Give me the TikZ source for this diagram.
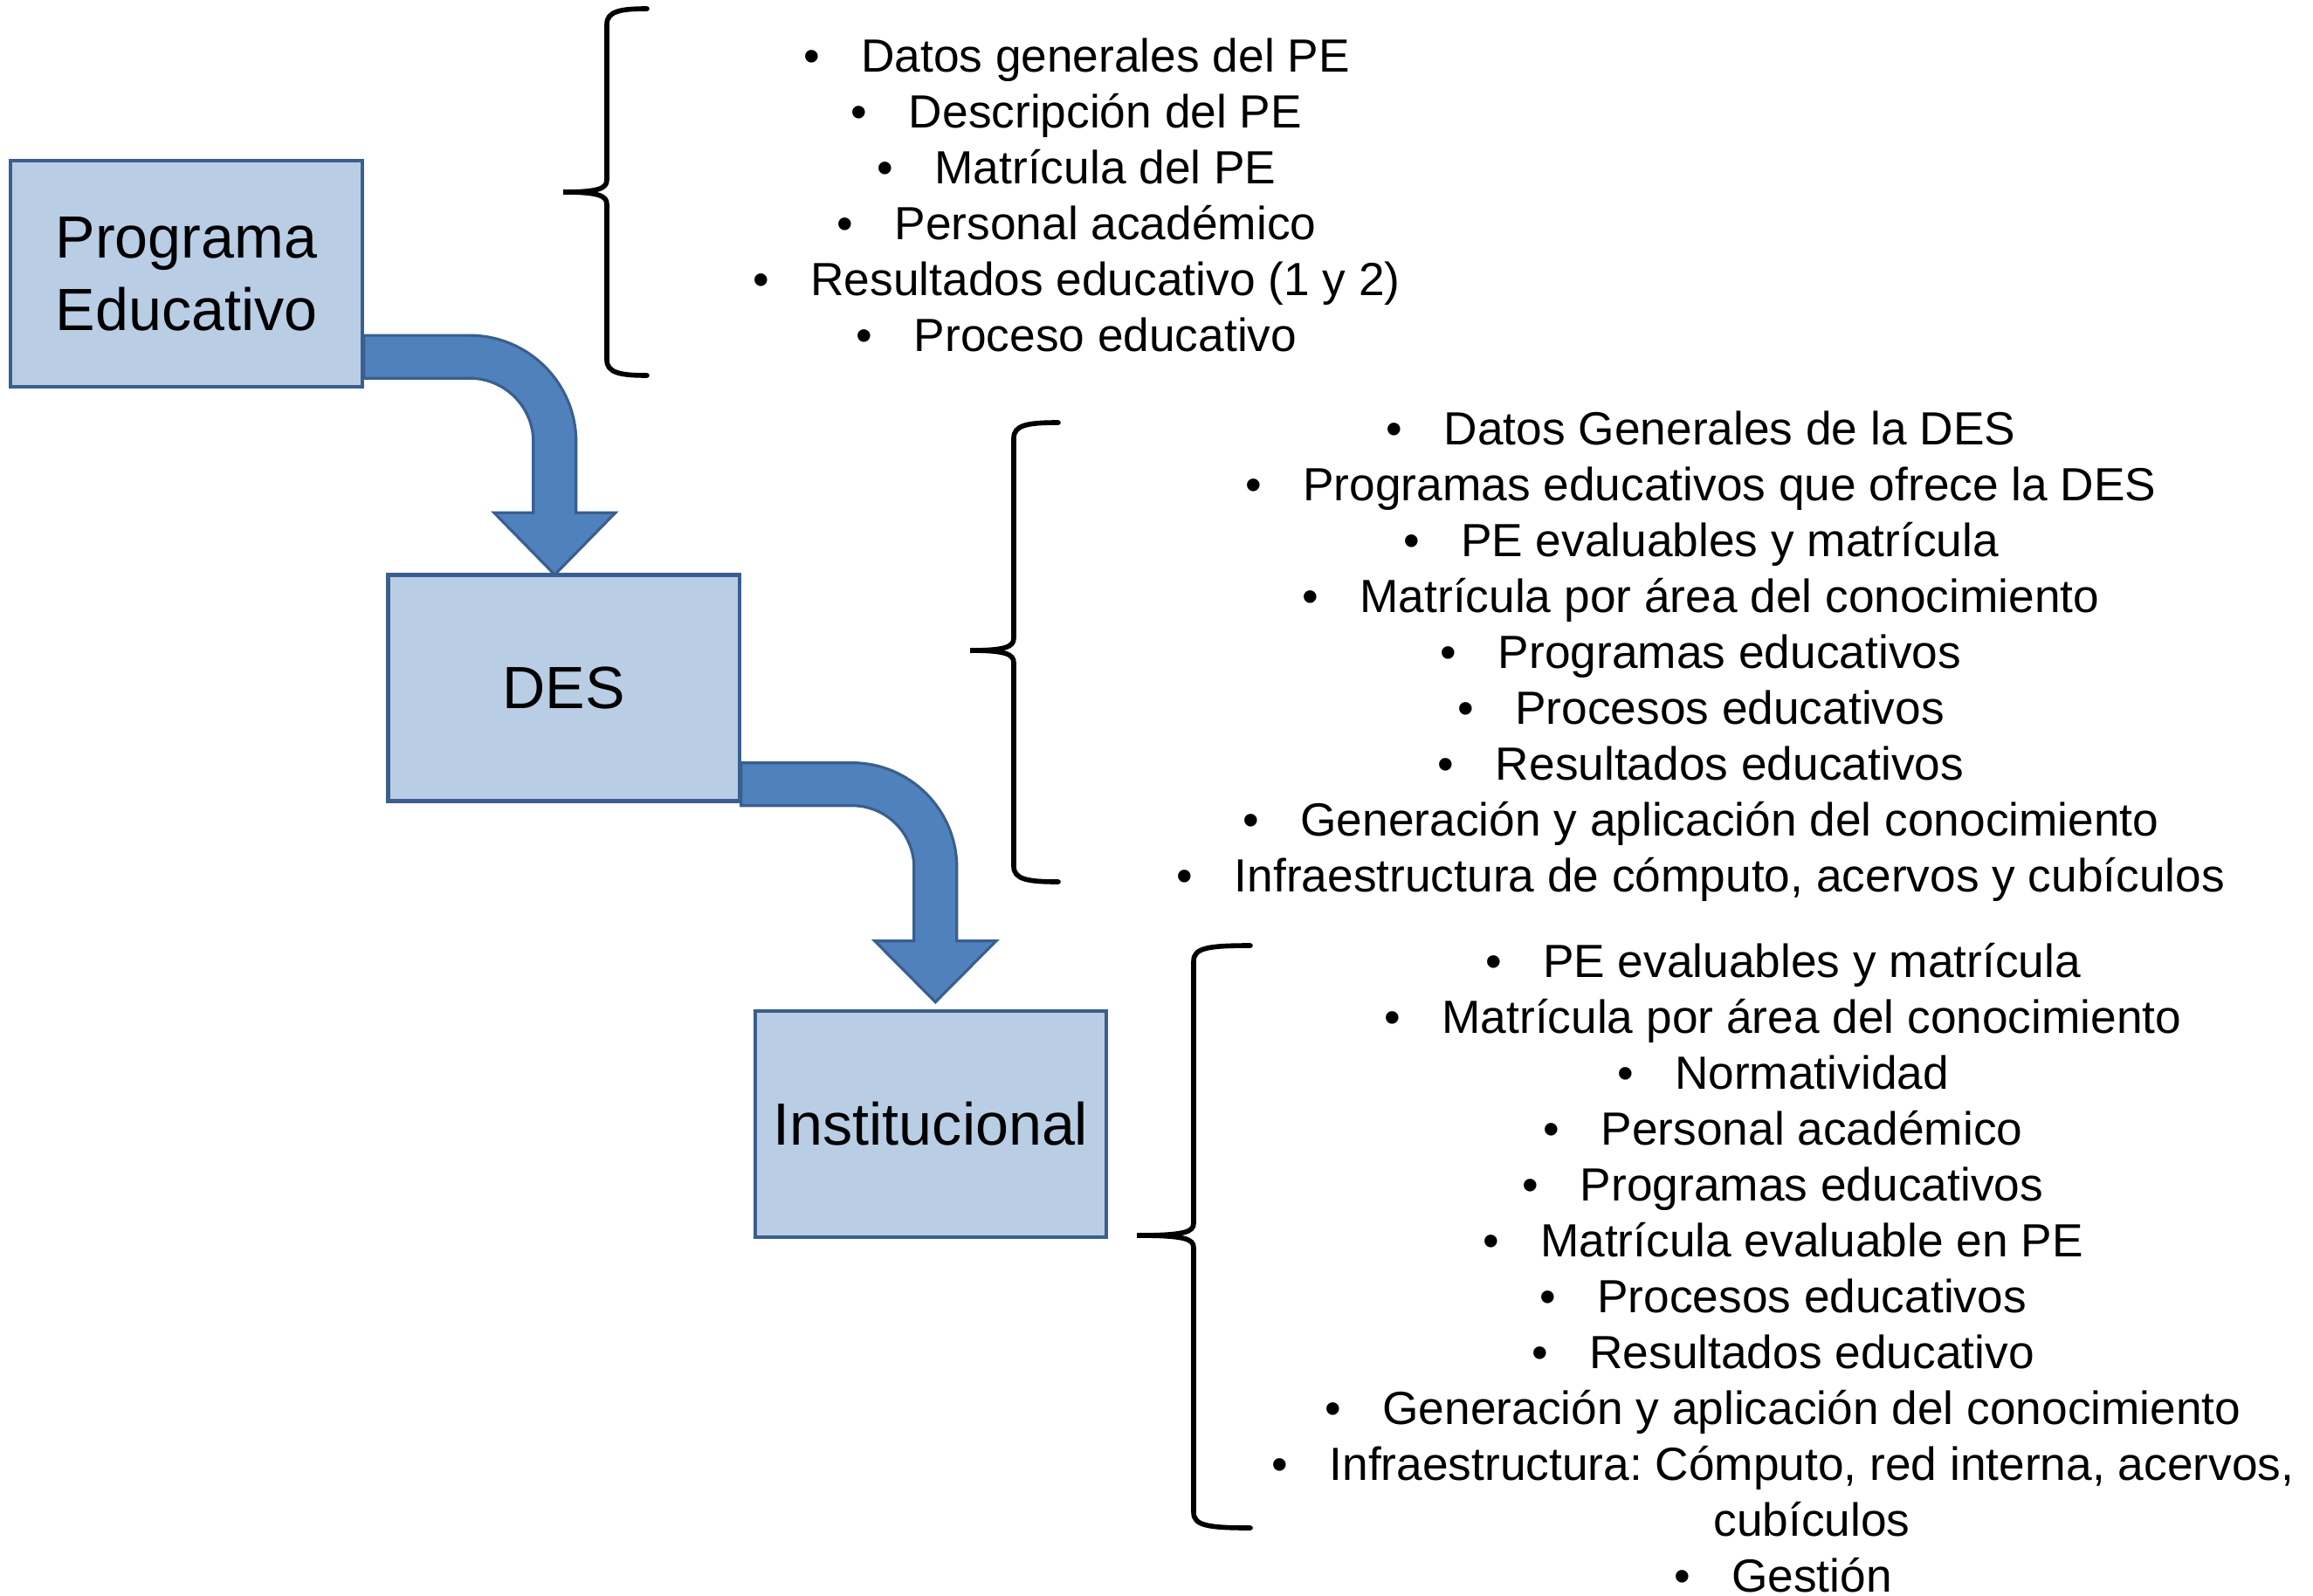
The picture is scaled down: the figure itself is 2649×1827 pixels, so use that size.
\documentclass[tikz,border=0pt]{standalone}
\usepackage{fontspec}
\setmainfont{Liberation Sans}
\frenchspacing
\definecolor{boxfill}{HTML}{B9CDE5}
\definecolor{boxline}{HTML}{3A5F8E}
\definecolor{arrowfill}{HTML}{4F81BD}
\newcommand\bul{\makebox[0.66cm][l]{•}}
\newcommand\cbrace[6]{% V, T, M, B, P, E
  \draw[bracestyle] (#6,#2) .. controls (#1+15,#2) and (#1,#2+3) .. (#1,#2+18)
    -- (#1,#3-14) .. controls (#1,#3-4) and (#1-10,#3) .. (#5,#3)
    .. controls (#1-10,#3) and (#1,#3+4) .. (#1,#3+14)
    -- (#1,#4-18) .. controls (#1,#4-3) and (#1+15,#4) .. (#6,#4);}
\tikzset{
  box/.style={draw=boxline, fill=boxfill, line width=1.2pt, minimum width=4.02cm,
    minimum height=2.59cm, inner sep=0pt, align=center,
    font=\fontsize{19.4}{23.6}\selectfont},
  item/.style={inner sep=0pt, anchor=base, font=\fontsize{15.15}{18}\selectfont},
  blockarrow/.style={fill=arrowfill, draw=boxline, line width=0.9pt, line join=miter},
  bracestyle/.style={draw=black, line width=1.6pt, line cap=round}
}
\begin{document}
\begin{tikzpicture}[x=0.01cm, y=-0.01cm]
\useasboundingbox (0,0) rectangle (2649,1827);
% boxes
\node[box] (prog) at (213.5,313.5) {Programa\\Educativo};
\node[box] (des) at (645.5,788) {DES};
\node[box] (inst) at (1066,1287.5) {Institucional};
% block arrows
\filldraw[blockarrow] ([yshift=0.61cm]prog.south east) -- ++(121,0)
  arc[start angle=90, end angle=0, radius=1.22cm] -- ++(0,81) -- ++(45,0)
  -- ++(-69.5,71) -- ++(-69.5,-71) -- ++(45,0) -- ++(0,-81)
  arc[start angle=0, end angle=90, radius=0.73cm]
  -- ([yshift=0.12cm]prog.south east) -- cycle;
\filldraw[blockarrow] ([yshift=0.46cm]des.south east) -- ++(127,0)
  arc[start angle=90, end angle=0, radius=1.20cm] -- ++(0,84) -- ++(45,0)
  -- ++(-69.5,70) -- ++(-69.5,-70) -- ++(45,0) -- ++(0,-84)
  arc[start angle=0, end angle=90, radius=0.71cm]
  -- ([yshift=-0.03cm]des.south east) -- cycle;
% braces
\cbrace{695}{10}{220}{430}{645}{741}
\cbrace{1161}{484}{745}{1010}{1111}{1212}
\cbrace{1367}{1083}{1415}{1750}{1302}{1432}
% list 1
\foreach \t [count=\i] in {Datos generales del PE, Descripción del PE,
  Matrícula del PE, Personal académico, Resultados educativo (1 y 2),
  Proceso educativo}
  \node[item] (pa\i) at (1233,{82+64*(\i-1)}) {\bul\t};
% list 2
\foreach \t [count=\i] in {Datos Generales de la DES,
  Programas educativos que ofrece la DES, PE evaluables y matrícula,
  Matrícula por área del conocimiento, Programas educativos,
  Procesos educativos, Resultados educativos,
  Generación y aplicación del conocimiento,
  {Infraestructura de cómputo, acervos y cubículos}}
  \node[item] (da\i) at (1948,{509+64*(\i-1)}) {\bul\t};
% list 3
\foreach \t [count=\i] in {{\bul PE evaluables y matrícula},
  {\bul Matrícula por área del conocimiento}, {\bul Normatividad},
  {\bul Personal académico}, {\bul Programas educativos},
  {\bul Matrícula evaluable en PE}, {\bul Procesos educativos},
  {\bul Resultados educativo}, {\bul Generación y aplicación del conocimiento},
  {\bul Infraestructura: Cómputo, red interna, acervos,},
  {\hspace*{0.66cm}cubículos}, {\bul Gestión}}
  \node[item] (ia\i) at (2042,{1119+64*(\i-1)}) {\t};
\end{tikzpicture}
\end{document}
